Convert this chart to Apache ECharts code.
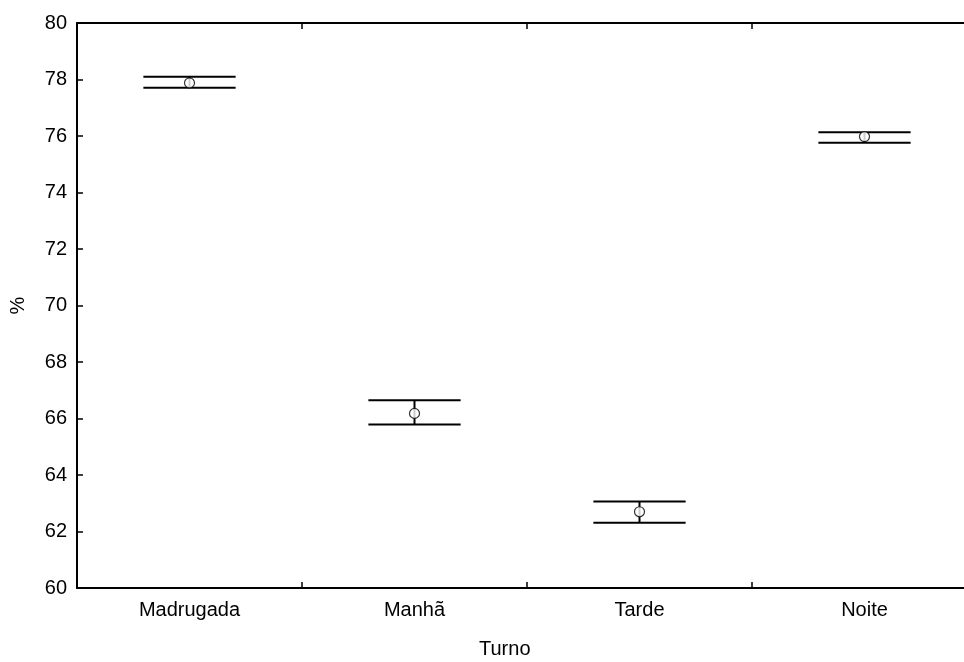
<!DOCTYPE html>
<html><head><meta charset="utf-8">
<script src="https://cdn.jsdelivr.net/npm/echarts@6/dist/echarts.min.js"></script>
<style>html,body{margin:0;padding:0;background:#fff}#c{width:964px;height:662px}</style>
</head><body><div id="c"></div>
<script>
const categories = ['Madrugada', 'Manhã', 'Tarde', 'Noite'];
const means = [77.88, 66.18, 62.70, 75.98];
const upper = [78.10, 66.65, 63.06, 76.13];
const lower = [77.71, 65.79, 62.31, 75.76];
const yTicks = [60, 62, 64, 66, 68, 70, 72, 74, 76, 78, 80];

const chart = echarts.init(document.getElementById('c'), null, {renderer: 'canvas'});
const font = 'Liberation Sans, Arial, sans-serif';
const errData = categories.map((c, i) => [i, lower[i], upper[i]]);
const meanData = categories.map((c, i) => [i, means[i]]);

chart.setOption({
  animation: false,
  backgroundColor: '#fff',
  grid: {left: 77, top: 23, width: 900, height: 565, containLabel: false, outerBoundsMode: 'none'},
  xAxis: [{
    type: 'category', data: categories, position: 'bottom',
    axisLine: {lineStyle: {color: '#000', width: 2}},
    axisTick: {show: true, inside: true, length: 6, lineStyle: {color: '#000', width: 1.5}},
    axisLabel: {color: '#000', fontSize: 20, fontFamily: font, margin: 12},
    splitLine: {show: false}
  }, {
    type: 'category', data: categories, position: 'top',
    axisLine: {lineStyle: {color: '#000', width: 2}},
    axisTick: {show: true, inside: true, length: 6, lineStyle: {color: '#000', width: 1.5}},
    axisLabel: {show: false}, splitLine: {show: false}
  }],
  yAxis: {
    type: 'value', min: yTicks[0], max: yTicks[yTicks.length - 1], interval: 2,
    axisLine: {show: true, lineStyle: {color: '#000', width: 2}},
    axisTick: {show: true, inside: true, length: 6, lineStyle: {color: '#000', width: 1.5}},
    axisLabel: {color: '#000', fontSize: 20, fontFamily: font, margin: 10},
    splitLine: {show: false},
    name: '%', nameLocation: 'middle', nameGap: 49, nameRotate: 90,
    nameTextStyle: {color: '#000', fontSize: 20, fontFamily: font}
  },
  graphic: [{
    type: 'text', left: 479, top: 639,
    style: {text: 'Turno', fill: '#000', font: '20px ' + font}
  }],
  series: [{
    type: 'custom',
    xAxisIndex: 0,
    data: errData,
    renderItem: function (params, api) {
      const x = api.value(0);
      const lo = api.coord([x, api.value(1)]);
      const hi = api.coord([x, api.value(2)]);
      const half = api.size([1, 0])[0] * 0.205;
      const st = {stroke: '#000', lineWidth: 2};
      return {type: 'group', children: [
        {type: 'line', shape: {x1: lo[0] - half, y1: lo[1], x2: lo[0] + half, y2: lo[1]}, style: st},
        {type: 'line', shape: {x1: hi[0] - half, y1: hi[1], x2: hi[0] + half, y2: hi[1]}, style: st},
        {type: 'line', shape: {x1: lo[0], y1: lo[1], x2: hi[0], y2: hi[1]}, style: st}
      ]};
    },
    z: 2
  }, {
    type: 'scatter', xAxisIndex: 0, data: meanData, symbol: 'circle', symbolSize: 10,
    itemStyle: {color: '#fff', borderColor: '#000', borderWidth: 1.2},
    z: 3
  }]
});
</script></body></html>
